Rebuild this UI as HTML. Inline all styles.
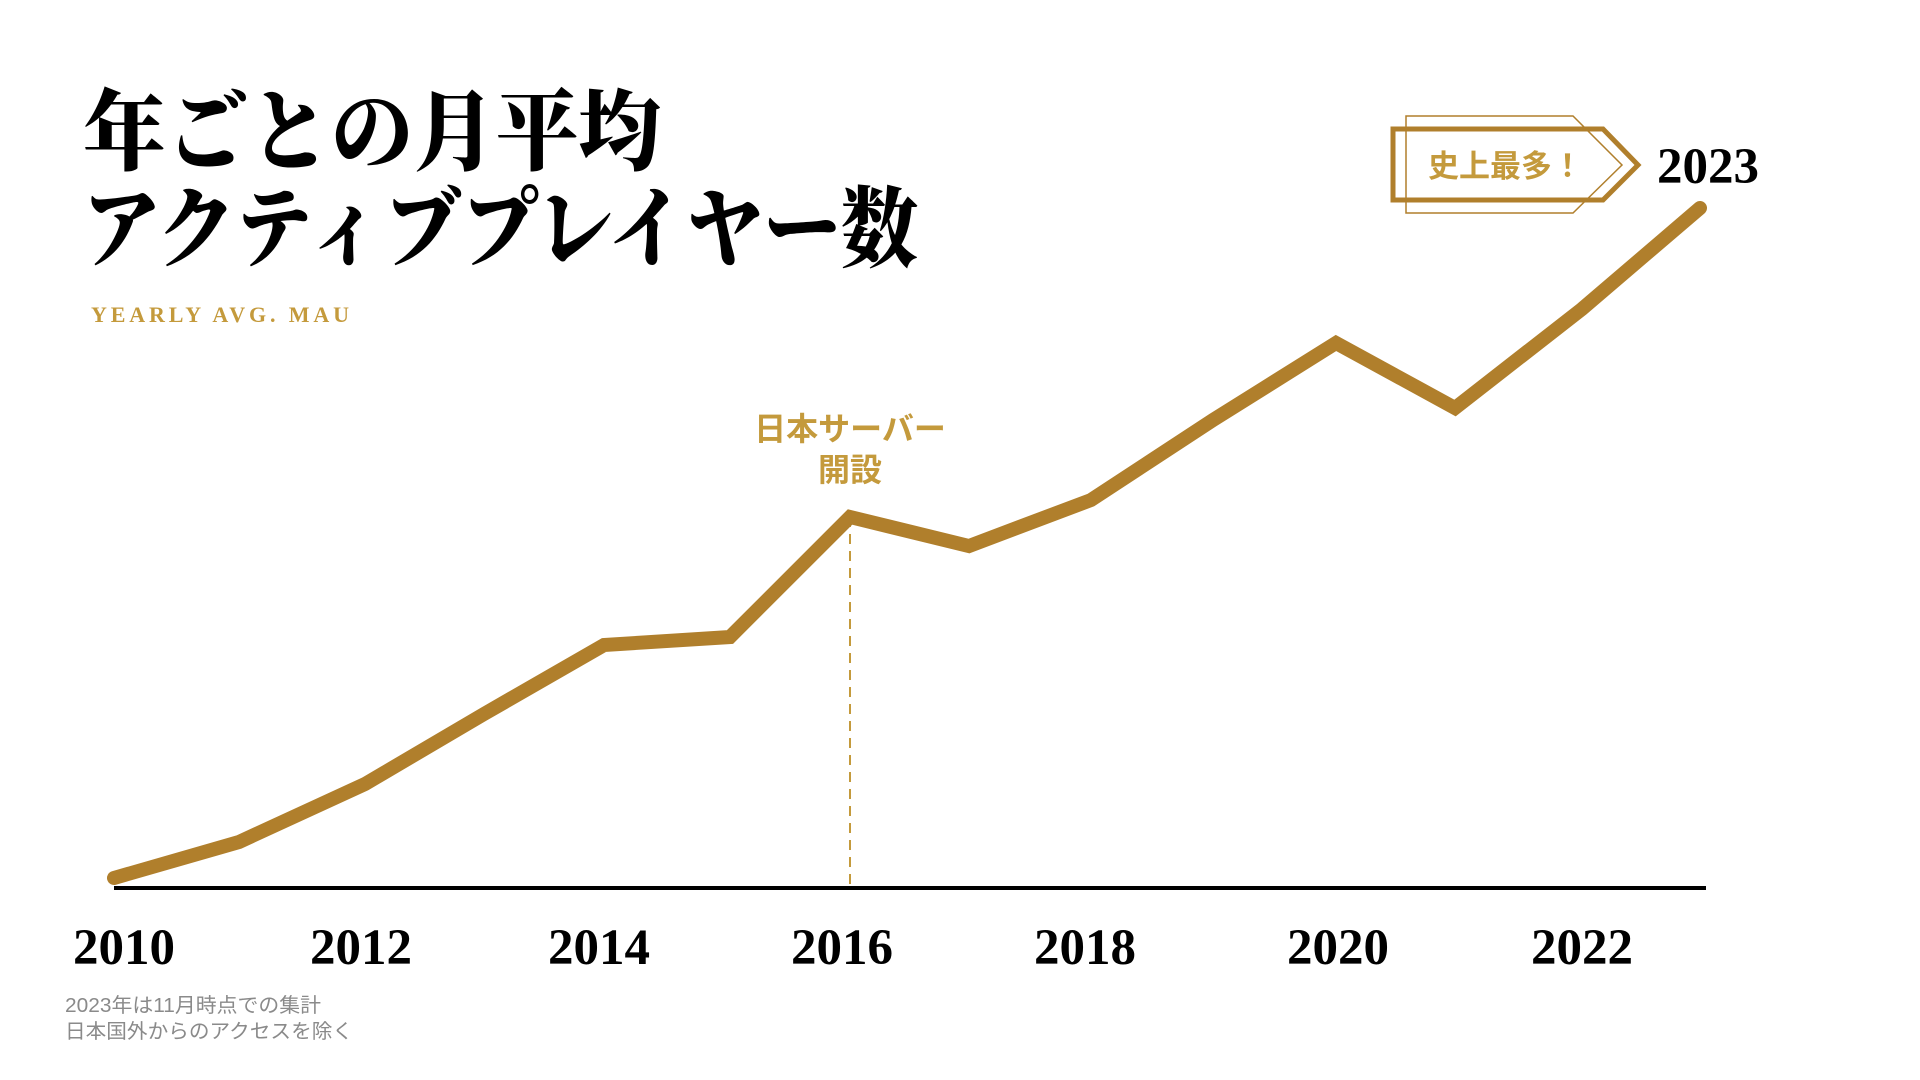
<!DOCTYPE html>
<html><head><meta charset="utf-8"><style>
html,body{margin:0;padding:0;background:#fff;}
body{width:1920px;height:1080px;overflow:hidden;position:relative;}
</style></head><body>
<svg width="1920" height="1080" viewBox="0 0 1920 1080" xmlns="http://www.w3.org/2000/svg" style="position:absolute;left:0;top:0">
<text x="83" y="163" font-family="'Liberation Serif','Noto Serif CJK SC',serif" font-weight="900" font-size="88" fill="#000" textLength="578" lengthAdjust="spacingAndGlyphs">年ごとの月平均</text>
<text x="83" y="260" font-family="'Liberation Serif','Noto Serif CJK SC',serif" font-weight="900" font-size="88" fill="#000" textLength="835" lengthAdjust="spacingAndGlyphs">アクティブプレイヤー数</text>
<text x="91" y="322" font-family="'Liberation Serif',serif" font-weight="bold" font-size="22" letter-spacing="2" fill="#c49a3c" textLength="260">YEARLY AVG. MAU</text>
<text x="850" y="440" text-anchor="middle" font-family="'Liberation Sans','Noto Sans CJK JP',sans-serif" font-weight="bold" font-size="32" fill="#c49a3c">日本サーバー</text>
<text x="850" y="481" text-anchor="middle" font-family="'Liberation Sans','Noto Sans CJK JP',sans-serif" font-weight="bold" font-size="32" fill="#c49a3c">開設</text>
<line x1="850" y1="517" x2="850" y2="888" stroke="#c49a3c" stroke-width="2" stroke-dasharray="10,7"/>
<line x1="114" y1="888" x2="1706" y2="888" stroke="#000" stroke-width="4"/>
<polyline points="114,878 239,842 365,784 484,714 604,645 730,637 850,517 969,546 1091,500 1213,420 1336,343 1455,408 1582,309 1700,208" fill="none" stroke="#b07f2c" stroke-width="14" stroke-linecap="round" stroke-linejoin="miter"/>
<g font-family="'Liberation Serif',serif" font-weight="bold" font-size="51" fill="#000" text-anchor="middle">
<text x="124" y="964">2010</text><text x="361" y="964">2012</text><text x="599" y="964">2014</text><text x="842" y="964">2016</text><text x="1085" y="964">2018</text><text x="1338" y="964">2020</text><text x="1582" y="964">2022</text>
<text x="1708" y="183">2023</text>
</g>
<polygon points="1406,116 1573,116 1622,165 1573,213 1406,213" fill="none" stroke="#b07f2c" stroke-width="1.5"/>
<polygon points="1393,129 1603,129 1638,165 1603,200 1393,200" fill="none" stroke="#b07f2c" stroke-width="5"/>
<text x="1428" y="177" font-family="'Liberation Sans','Noto Sans CJK JP',sans-serif" font-weight="bold" font-size="31" fill="#c49a3c">史上最多！</text>
<text x="65" y="1012" font-family="'Liberation Sans','Noto Sans CJK JP',sans-serif" font-size="20" fill="#8a8a8a" textLength="256" lengthAdjust="spacingAndGlyphs">2023年は11月時点での集計</text>
<text x="65" y="1038" font-family="'Liberation Sans','Noto Sans CJK JP',sans-serif" font-size="20" fill="#8a8a8a" textLength="288" lengthAdjust="spacingAndGlyphs">日本国外からのアクセスを除く</text>
</svg>
</body></html>
